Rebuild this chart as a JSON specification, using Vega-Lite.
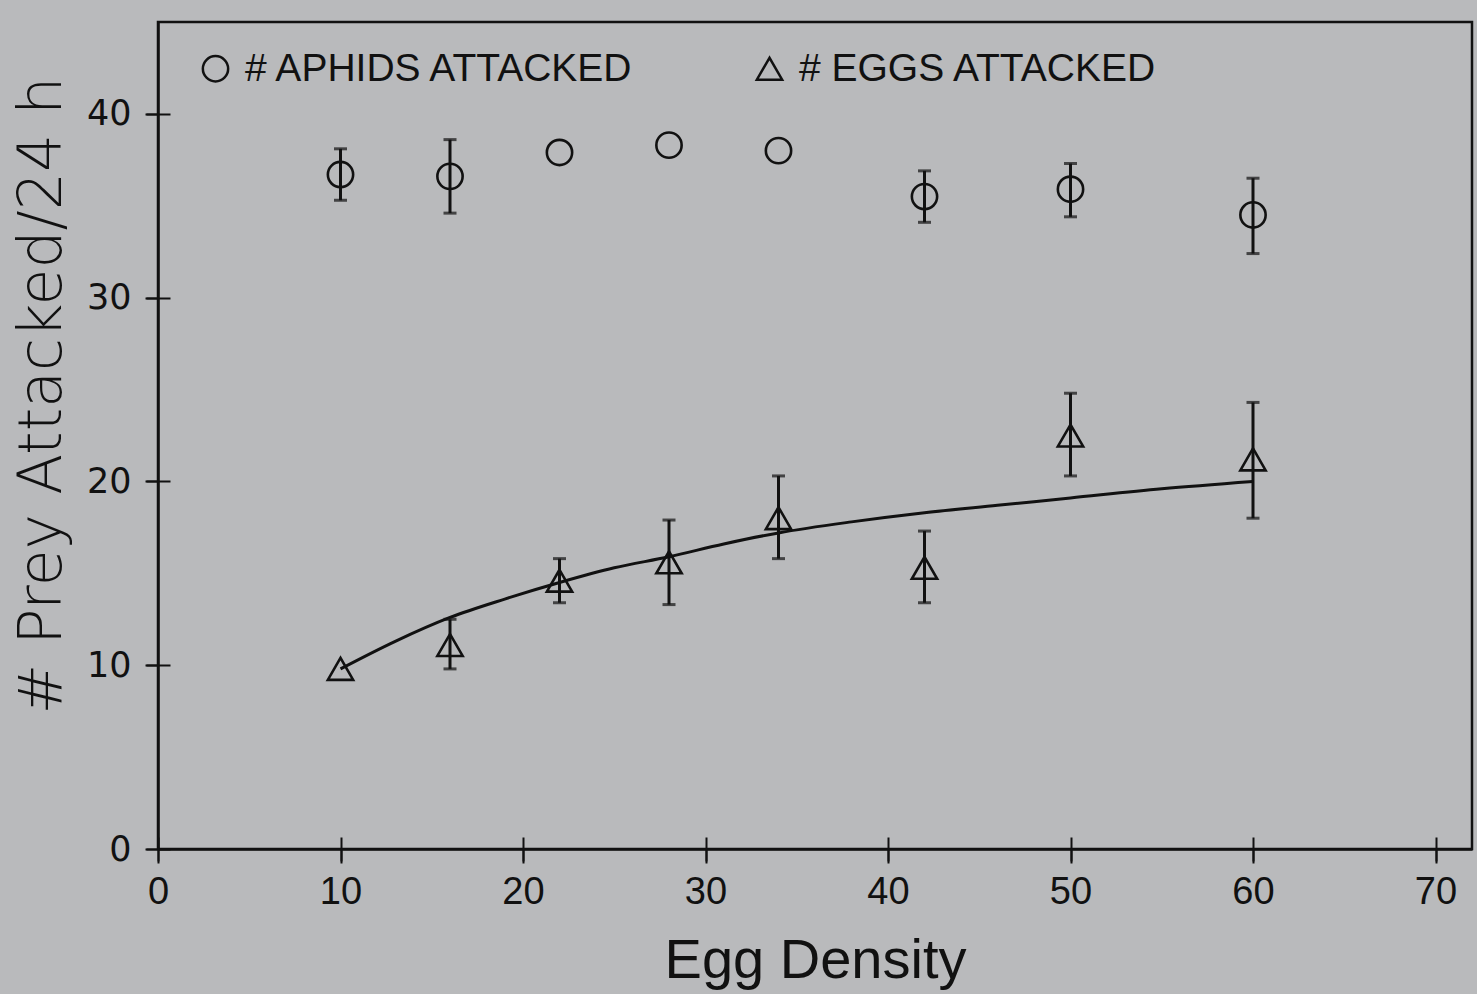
{
  "$schema": "https://vega.github.io/schema/vega-lite/v6.json",
  "width": 1314,
  "height": 827,
  "autosize": {"type": "none"},
  "padding": {"left": 158, "top": 22, "right": 5, "bottom": 145},
  "background": "#b9babc",
  "config": {
    "view": {"stroke": "#111111", "strokeWidth": 2.5},
    "axis": {
      "domainColor": "#111111", "domainWidth": 2.5, "tickColor": "#111111", "tickWidth": 2,
      "labelColor": "#111111", "titleColor": "#111111", "grid": false, "titleFontWeight": "normal",
      "labelFlush": false, "labelOverlap": false
    },
    "legend": {
      "orient": "none", "legendX": 38, "legendY": 27, "direction": "horizontal",
      "labelFont": "Liberation Sans", "labelFontSize": 39, "labelColor": "#111111", "labelLimit": 800,
      "columnPadding": 114, "symbolSize": 640, "symbolStrokeWidth": 2.5, "labelOffset": 10
    }
  },
  "datasets": {
    "pts": [
      {"series": "# APHIDS ATTACKED", "x": 10, "y": 36.7, "lo": 35.3, "hi": 38.1},
      {"series": "# APHIDS ATTACKED", "x": 16, "y": 36.6, "lo": 34.6, "hi": 38.6},
      {"series": "# APHIDS ATTACKED", "x": 22, "y": 37.9, "lo": null, "hi": null},
      {"series": "# APHIDS ATTACKED", "x": 28, "y": 38.3, "lo": null, "hi": null},
      {"series": "# APHIDS ATTACKED", "x": 34, "y": 38.0, "lo": null, "hi": null},
      {"series": "# APHIDS ATTACKED", "x": 42, "y": 35.5, "lo": 34.1, "hi": 36.9},
      {"series": "# APHIDS ATTACKED", "x": 50, "y": 35.9, "lo": 34.4, "hi": 37.3},
      {"series": "# APHIDS ATTACKED", "x": 60, "y": 34.5, "lo": 32.4, "hi": 36.5},
      {"series": "# EGGS ATTACKED", "x": 10, "y": 9.8, "lo": null, "hi": null},
      {"series": "# EGGS ATTACKED", "x": 16, "y": 11.1, "lo": 9.8, "hi": 12.5},
      {"series": "# EGGS ATTACKED", "x": 22, "y": 14.6, "lo": 13.4, "hi": 15.8},
      {"series": "# EGGS ATTACKED", "x": 28, "y": 15.6, "lo": 13.3, "hi": 17.9},
      {"series": "# EGGS ATTACKED", "x": 34, "y": 18.0, "lo": 15.8, "hi": 20.3},
      {"series": "# EGGS ATTACKED", "x": 42, "y": 15.3, "lo": 13.4, "hi": 17.3},
      {"series": "# EGGS ATTACKED", "x": 50, "y": 22.5, "lo": 20.3, "hi": 24.8},
      {"series": "# EGGS ATTACKED", "x": 60, "y": 21.2, "lo": 18.0, "hi": 24.3}
    ],
    "curve": [
      {"x": 10, "y": 9.8}, {"x": 13, "y": 11.3}, {"x": 16, "y": 12.6}, {"x": 19, "y": 13.6},
      {"x": 22, "y": 14.5}, {"x": 25, "y": 15.3}, {"x": 28, "y": 15.9}, {"x": 31, "y": 16.6},
      {"x": 34, "y": 17.2}, {"x": 38, "y": 17.8}, {"x": 42, "y": 18.3}, {"x": 46, "y": 18.7},
      {"x": 50, "y": 19.1}, {"x": 55, "y": 19.6}, {"x": 60, "y": 20.0}
    ]
  },
  "layer": [
    {
      "data": {"name": "pts"},
      "transform": [{"filter": "isValid(datum.lo)"}],
      "mark": {"type": "rule", "strokeWidth": 3, "color": "#111111"},
      "encoding": {
        "x": {"field": "x", "type": "quantitative", "scale": {"domain": [0, 72], "nice": false, "zero": false},
          "axis": {"orient": "bottom", "values": [0, 10, 20, 30, 40, 50, 60, 70], "labels": false, "domain": false, "title": null, "tickSize": 24, "offset": -12}},
        "y": {"field": "lo", "type": "quantitative", "scale": {"domain": [0, 45], "nice": false},
          "axis": {"orient": "left", "values": [0, 10, 20, 30, 40], "labels": false, "domain": false, "title": null, "tickSize": 24, "offset": -12}},
        "y2": {"field": "hi"}
      }
    },
    {
      "data": {"name": "pts"},
      "transform": [{"fold": ["lo", "hi"], "as": ["end", "val"]}, {"filter": "isValid(datum.val)"}],
      "mark": {"type": "tick", "orient": "horizontal", "size": 13, "thickness": 3, "color": "#111111"},
      "encoding": {
        "x": {"field": "x", "type": "quantitative", "axis": null},
        "y": {"field": "val", "type": "quantitative", "axis": null}
      }
    },
    {
      "data": {"name": "curve"},
      "mark": {"type": "line", "interpolate": "monotone", "strokeWidth": 3, "color": "#111111"},
      "encoding": {
        "x": {"field": "x", "type": "quantitative", "axis": null},
        "y": {"field": "y", "type": "quantitative", "axis": null}
      }
    },
    {
      "data": {"name": "pts"},
      "mark": {"type": "point", "filled": false, "stroke": "#111111", "strokeWidth": 2.6, "size": 640, "opacity": 1},
      "encoding": {
        "x": {"field": "x", "type": "quantitative",
          "axis": {"orient": "bottom", "title": "Egg Density", "values": [0, 10, 20, 30, 40, 50, 60, 70], "format": "d",
            "tickSize": 14, "labelFont": "Liberation Sans", "labelFontSize": 38, "labelPadding": 10,
            "titleFont": "Liberation Sans", "titleFontSize": 56, "titlePadding": 22}},
        "y": {"field": "y", "type": "quantitative",
          "axis": {"orient": "left", "title": "# Prey Attacked/24 h", "values": [0, 10, 20, 30, 40], "format": "d",
            "tickSize": 13, "labelFont": "DejaVu Sans", "labelFontSize": 35, "labelPadding": 14, "labelFontWeight": "normal",
            "titleFont": "DejaVu Sans", "titleFontSize": 60, "titleFontWeight": 200, "titlePadding": 13, "titleY": 373}},
        "shape": {"field": "series", "type": "nominal",
          "scale": {"domain": ["# APHIDS ATTACKED", "# EGGS ATTACKED"], "range": ["circle", "triangle-up"]},
          "legend": {"title": null}}
      }
    }
  ],
  "resolve": {"axis": {"x": "independent", "y": "independent"}}
}
